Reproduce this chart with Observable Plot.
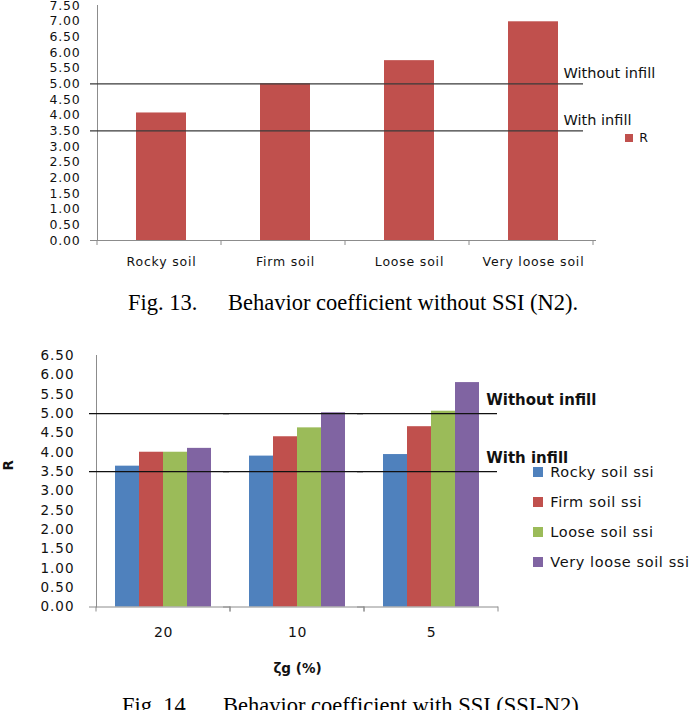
<!DOCTYPE html>
<html>
<head>
<meta charset="utf-8">
<script src="https://cdn.jsdelivr.net/npm/d3@7"></script>
<script src="https://cdn.jsdelivr.net/npm/@observablehq/plot@0.6"></script>
<style>
  html, body { margin: 0; padding: 0; background: #fff; }
  body { width: 696px; height: 710px; overflow: hidden; position: relative; font-family: "DejaVu Sans", sans-serif; }
  .panel { position: absolute; left: 0; }
  .cap { position: absolute; font-family: "Liberation Serif", "Times New Roman", serif; font-size: 22.5px; line-height: 24px; color: #000; white-space: nowrap; }
  .c13 text, .c14 text { fill: #111; }
  .c13 [aria-label="y-axis tick label"], .c13 [aria-label="x-axis tick label"] { letter-spacing: 0.8px; }
  .c14 [aria-label="y-axis tick label"] { letter-spacing: 1px; font-size: 13.5px; }
  .c14 [aria-label="fx-axis tick label"] { letter-spacing: 0.5px; font-size: 14px; }
  .c14 [aria-label="fx-axis label"] { font-weight: bold; font-size: 13.5px; }
  .lg14-swatches-columns .lg14-swatch { height: 29.7px !important; padding-bottom: 0 !important; margin: 0 !important; }
  .legend { position: absolute; }
</style>
</head>
<body>
<div id="fig13" class="panel" style="top:0"></div>
<div id="leg13" class="legend" style="left:625px; top:121px"></div>
<div class="cap" style="left:128px; top:291px">Fig. 13.</div>
<div class="cap" style="left:228px; top:291px">Behavior coefficient without SSI (N2).</div>
<div id="fig14" class="panel" style="top:340px"></div>
<div id="leg14" class="legend" style="left:533px; top:457.6px"></div>
<div class="cap" style="left:122px; top:694px">Fig. 14.</div>
<div class="cap" style="left:223px; top:694px">Behavior coefficient with SSI (SSI-N2).</div>
<script>
// Fig. 13: behaviour coefficient R per soil class, fixed-base model (N2)
const soils = ["Rocky soil", "Firm soil", "Loose soil", "Very loose soil"];
const rFixed = [4.07, 5.00, 5.74, 6.98];
const ticks13 = [0, 0.5, 1, 1.5, 2, 2.5, 3, 3.5, 4, 4.5, 5, 5.5, 6, 6.5, 7, 7.5];

// Code values of R for the frame without and with masonry infill
const refLevels = [5.0, 3.5];
const refNames = ["Without infill", "With infill"];

// Fig. 14: R with soil-structure interaction, by ground damping ratio ζg (%)
const damping = ["20", "10", "5"];
const ssiSeries = ["Rocky soil ssi", "Firm soil ssi", "Loose soil ssi", "Very loose soil ssi"];
const rockySsi = [3.64, 3.90, 3.94];
const firmSsi = [4.00, 4.40, 4.66];
const looseSsi = [4.00, 4.63, 5.06];
const veryLooseSsi = [4.10, 5.02, 5.80];
const ticks14 = [0, 0.5, 1, 1.5, 2, 2.5, 3, 3.5, 4, 4.5, 5, 5.5, 6, 6.5];

const seriesColors = ["#4F81BD", "#C0504D", "#9BBB59", "#8064A2"];
const barRed = "#C0504D";
const axisGray = "#8c8c8c";
const fmt = d3.format(".2f");

// long table for the grouped bars
const ssiValues = [rockySsi, firmSsi, looseSsi, veryLooseSsi];
const ssiRows = [];
damping.forEach((g, gi) => ssiSeries.forEach((s, si) => ssiRows.push({zeta: g, series: s, r: ssiValues[si][gi]})));

// small downward tick marks on the category axis, between categories
function categoryTicks(allBoundaries) {
  return (index, scales) => {
    const x = scales.x, y = scales.y;
    const [r0, r1] = x.range();
    const y0 = y(0);
    const xs = allBoundaries ? d3.range(x.domain().length + 1).map(i => r0 + i * x.step()) : [r0, r1];
    const g = d3.create("svg:g").attr("stroke", axisGray).attr("stroke-width", 1);
    for (const px of xs) g.append("line").attr("x1", px).attr("x2", px).attr("y1", y0).attr("y2", y0 + 5);
    return g.node();
  };
}

const fig13 = Plot.plot({
  className: "c13",
  width: 696,
  height: 275,
  marginLeft: 97,
  marginRight: 100,
  marginTop: 5,
  marginBottom: 35,
  style: {fontFamily: "DejaVu Sans, sans-serif", fontSize: "12.5px", color: axisGray, background: "transparent", overflow: "visible"},
  x: {domain: soils, paddingInner: 0.6, paddingOuter: 0.3, label: null, tickSize: 0, tickPadding: 17},
  y: {domain: [0, 7.5], ticks: ticks13, tickFormat: fmt, tickSize: 0, tickPadding: 17, label: null, line: true},
  marks: [
    Plot.barY(soils, {x: soils, y: rFixed, fill: barRed}),
    Plot.ruleY(refLevels, {stroke: "#3a3a3a", strokeWidth: 1.3, insetLeft: -7, insetRight: 13}),
    Plot.text(refLevels, {y: d => d, text: refNames, frameAnchor: "right", textAnchor: "start", dx: -33, dy: -10.5, fontSize: 14.5, fill: "#111"}),
    Plot.ruleY([0], {stroke: axisGray, insetLeft: -7}),
    categoryTicks(true)
  ]
});
document.getElementById("fig13").append(fig13);

document.getElementById("leg13").append(Plot.legend({
  color: {domain: ["R"], range: [barRed]},
  legend: "swatches",
  swatchSize: 8,
  style: {fontFamily: "DejaVu Sans, sans-serif", fontSize: "12.5px", color: "#111"}
}));

const fig14 = Plot.plot({
  className: "c14",
  width: 696,
  height: 345,
  marginLeft: 95,
  marginRight: 197,
  marginTop: 15,
  marginBottom: 78.5,
  style: {fontFamily: "DejaVu Sans, sans-serif", fontSize: "13.5px", color: axisGray, background: "transparent", overflow: "visible"},
  fx: {domain: damping, padding: 0, axis: "bottom", tickSize: 0, tickPadding: 20, label: "ζg (%)", labelAnchor: "center", labelOffset: 66, labelArrow: "none"},
  x: {domain: ssiSeries, paddingInner: 0, paddingOuter: 0.737, axis: null},
  y: {domain: [0, 6.5], ticks: ticks14, tickFormat: fmt, tickSize: 0, tickPadding: 22, label: null, line: true},
  color: {domain: ssiSeries, range: seriesColors},
  marks: [
    Plot.barY(ssiRows, {fx: "zeta", x: "series", y: "r", fill: "series"}),
    Plot.ruleY(refLevels, {stroke: "#111", strokeWidth: 1.2, insetLeft: -7, insetRight: 1}),
    Plot.text(refLevels, {fx: () => damping[damping.length - 1], y: d => d, text: refNames, frameAnchor: "right", textAnchor: "start", dx: -12.3, dy: -13.8, fontSize: 15, fontWeight: "bold", fill: "#111"}),
    // vertical axis title, left of the first group
    Plot.text(["R"], {fx: () => damping[0], frameAnchor: "left", rotate: -90, dx: -88, dy: -10.7, fontSize: 13.5, fontWeight: "bold", fill: "#111"}),
    Plot.ruleY([0], {stroke: axisGray, insetLeft: -7}),
    categoryTicks(false)
  ]
});
document.getElementById("fig14").append(fig14);

document.getElementById("leg14").append(Plot.legend({
  color: {domain: ssiSeries, range: seriesColors},
  legend: "swatches",
  className: "lg14",
  columns: 1,
  swatchSize: 10,
  style: {fontFamily: "DejaVu Sans, sans-serif", fontSize: "14.5px", color: "#111", letterSpacing: "0.6px"}
}));
</script>
</body>
</html>
